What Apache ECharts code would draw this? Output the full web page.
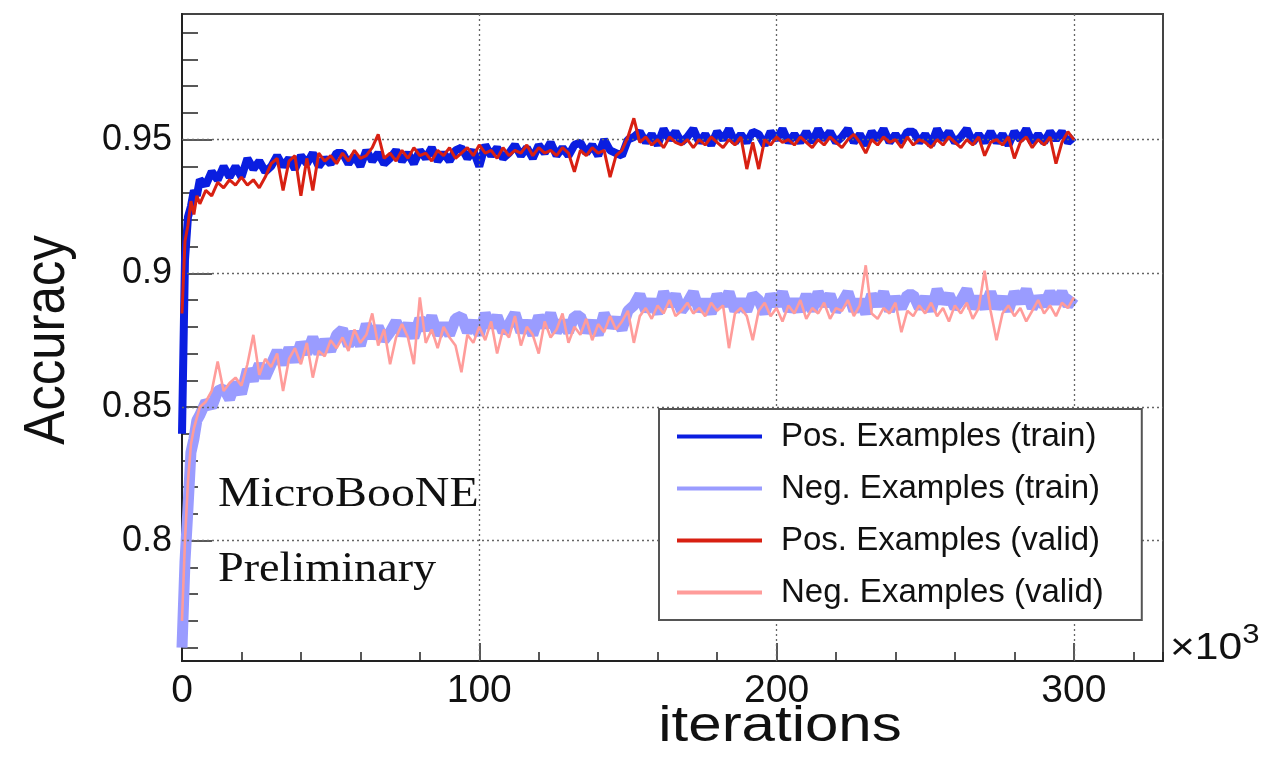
<!DOCTYPE html>
<html>
<head>
<meta charset="utf-8">
<script src="https://cdn.jsdelivr.net/npm/echarts@6/dist/echarts.min.js"></script>
<style>
html,body{margin:0;padding:0;background:#fff;}
#chart{width:1272px;height:778px;}
</style>
</head>
<body>
<div id="chart"></div>
<script>
// iterations (x10^3)
const iterations = [0,1,2,3,4,5,6,8,10,12,
14,16,18,20,22,24,26,28,30,32,
34,36,38,40,42,44,46,48,50,52,
54,56,58,60,62,64,66,68,70,72,
74,76,78,80,82,84,86,88,90,92,
94,96,98,100,102,104,106,108,110,112,
114,116,118,120,122,124,126,128,130,132,
134,136,138,140,142,144,146,148,150,152,
154,156,158,160,162,164,166,168,170,172,
174,176,178,180,182,184,186,188,190,192,
194,196,198,200,202,204,206,208,210,212,
214,216,218,220,222,224,226,228,230,232,
234,236,238,240,242,244,246,248,250,252,
254,256,258,260,262,264,266,268,270,272,
274,276,278,280,282,284,286,288,290,292,
294,296,298,300];

const posTrain = [0.840,0.905,0.921,0.925,0.931,0.929,0.935,0.933,0.938,0.935,
0.940,0.936,0.940,0.936,0.943,0.939,0.942,0.938,0.940,0.944,
0.940,0.943,0.939,0.944,0.941,0.945,0.940,0.943,0.941,0.945,
0.945,0.941,0.944,0.940,0.946,0.942,0.945,0.941,0.943,0.946,
0.942,0.945,0.941,0.946,0.943,0.947,0.942,0.945,0.942,0.946,
0.947,0.943,0.946,0.940,0.948,0.944,0.947,0.943,0.945,0.948,
0.944,0.947,0.943,0.948,0.945,0.949,0.944,0.947,0.944,0.948,
0.949,0.945,0.948,0.944,0.950,0.946,0.945,0.944,0.950,0.951,
0.953,0.949,0.952,0.948,0.954,0.950,0.953,0.949,0.951,0.954,
0.949,0.952,0.948,0.953,0.950,0.954,0.949,0.952,0.949,0.953,
0.952,0.948,0.953,0.950,0.954,0.949,0.952,0.949,0.953,0.949,
0.954,0.950,0.953,0.949,0.951,0.954,0.949,0.952,0.948,0.953,
0.950,0.954,0.949,0.952,0.949,0.953,0.953,0.949,0.952,0.948,
0.954,0.950,0.953,0.949,0.951,0.954,0.949,0.952,0.949,0.953,
0.949,0.952,0.948,0.953,0.950,0.954,0.949,0.952,0.949,0.953,
0.950,0.953,0.949,0.951];

const negTrain = [0.760,0.792,0.812,0.833,0.838,0.845,0.847,0.852,0.850,0.856,
0.857,0.853,0.859,0.855,0.864,0.860,0.866,0.861,0.866,0.871,
0.866,0.872,0.867,0.874,0.870,0.876,0.870,0.875,0.871,0.877,
0.879,0.873,0.878,0.873,0.881,0.876,0.880,0.875,0.878,0.882,
0.877,0.881,0.876,0.883,0.879,0.884,0.877,0.881,0.877,0.883,
0.884,0.878,0.882,0.877,0.885,0.880,0.884,0.878,0.881,0.885,
0.878,0.882,0.877,0.884,0.880,0.885,0.878,0.882,0.878,0.884,
0.884,0.878,0.882,0.877,0.885,0.880,0.883,0.879,0.886,0.888,
0.892,0.886,0.890,0.885,0.893,0.888,0.892,0.886,0.889,0.893,
0.886,0.890,0.885,0.892,0.888,0.893,0.886,0.890,0.886,0.892,
0.890,0.885,0.892,0.888,0.893,0.886,0.890,0.886,0.892,0.886,
0.893,0.888,0.892,0.886,0.889,0.893,0.886,0.890,0.885,0.892,
0.888,0.893,0.886,0.891,0.887,0.892,0.892,0.887,0.891,0.886,
0.894,0.889,0.892,0.887,0.890,0.894,0.887,0.891,0.887,0.893,
0.887,0.891,0.886,0.893,0.889,0.894,0.887,0.891,0.888,0.893,
0.889,0.893,0.888,0.891];

const posValid = [0.885,0.912,0.918,0.927,0.922,0.929,0.926,0.931,0.929,0.934,
0.932,0.935,0.933,0.936,0.933,0.935,0.932,0.936,0.941,0.943,
0.931,0.942,0.944,0.929,0.943,0.931,0.945,0.942,0.944,0.941,
0.945,0.942,0.946,0.943,0.944,0.947,0.952,0.943,0.945,0.942,
0.946,0.943,0.947,0.944,0.945,0.942,0.946,0.944,0.947,0.943,
0.945,0.947,0.944,0.948,0.945,0.946,0.943,0.947,0.944,0.946,
0.945,0.948,0.944,0.947,0.945,0.946,0.944,0.947,0.945,0.938,
0.946,0.944,0.947,0.945,0.946,0.936,0.944,0.946,0.951,0.958,
0.949,0.951,0.948,0.950,0.947,0.951,0.949,0.948,0.950,0.947,
0.950,0.948,0.951,0.949,0.947,0.950,0.948,0.951,0.939,0.949,
0.939,0.950,0.948,0.951,0.949,0.950,0.948,0.951,0.949,0.947,
0.950,0.948,0.951,0.949,0.947,0.950,0.952,0.949,0.945,0.950,
0.948,0.951,0.949,0.950,0.947,0.951,0.948,0.950,0.949,0.947,
0.950,0.948,0.951,0.949,0.947,0.950,0.948,0.951,0.944,0.949,
0.950,0.948,0.951,0.943,0.949,0.951,0.947,0.950,0.948,0.951,
0.941,0.949,0.953,0.950];

const negValid = [0.770,0.800,0.822,0.836,0.842,0.846,0.850,0.852,0.856,0.867,
0.856,0.859,0.861,0.858,0.866,0.877,0.862,0.868,0.865,0.870,
0.856,0.868,0.872,0.866,0.874,0.861,0.871,0.869,0.875,0.872,
0.876,0.871,0.879,0.874,0.877,0.885,0.873,0.879,0.866,0.876,
0.881,0.876,0.866,0.891,0.874,0.879,0.872,0.880,0.876,0.873,
0.863,0.877,0.874,0.880,0.875,0.882,0.870,0.879,0.876,0.884,
0.873,0.880,0.877,0.870,0.882,0.876,0.879,0.885,0.874,0.880,
0.877,0.883,0.875,0.881,0.878,0.884,0.879,0.882,0.886,0.874,
0.884,0.887,0.883,0.888,0.885,0.890,0.884,0.886,0.889,0.885,
0.887,0.884,0.889,0.886,0.888,0.872,0.885,0.887,0.884,0.875,
0.886,0.889,0.884,0.887,0.882,0.888,0.885,0.890,0.883,0.887,
0.885,0.889,0.883,0.887,0.886,0.890,0.884,0.888,0.903,0.885,
0.883,0.887,0.885,0.889,0.878,0.886,0.884,0.888,0.885,0.889,
0.884,0.887,0.882,0.888,0.885,0.889,0.883,0.887,0.901,0.886,
0.875,0.885,0.888,0.884,0.887,0.882,0.886,0.890,0.885,0.888,
0.884,0.889,0.887,0.891];

const seriesNames = ['Pos. Examples (train)','Neg. Examples (train)','Pos. Examples (valid)','Neg. Examples (valid)'];
const seriesColors = ['#0a1ee0','#9a9cff','#d82012','#ff9c9a'];

const yLabelValues = [0.8,0.85,0.9,0.95];
const yMinorValues = [0.76,0.77,0.78,0.79,0.8,0.81,0.82,0.83,0.84,0.85,0.86,0.87,0.88,0.89,0.9,0.91,0.92,0.93,0.94,0.95,0.96,0.97,0.98,0.99];
const xLabelValues = [0,100,200,300];
const xGridValues = [100,200,300];

function pairs(vals){ return iterations.map((x,i)=>[x, vals[i]]); }

const chart = echarts.init(document.getElementById('chart'), null, {renderer:'canvas'});
const FONT = 'Liberation Sans';
const axisLineStyle = {color:'#222', width:2};

const gridMark = {
  silent:true, symbol:['none','none'], label:{show:false},
  lineStyle:{color:'#666', type:[2,3], width:1.3},
  data: xGridValues.map(v=>({xAxis:v})).concat(yLabelValues.map(v=>({yAxis:v})))
};

const seriesWidths = [8, 11, 3, 2.6];
const dataSeries = [posTrain, negTrain, posValid, negValid].map((vals,i)=>({
  name: seriesNames[i], type:'line', data: pairs(vals), symbol:'none', showSymbol:false,
  lineStyle:{color:seriesColors[i], width: seriesWidths[i], join:'bevel'}, itemStyle:{color:seriesColors[i]},
  z: 3+i, clip:true, animation:false
}));

chart.setOption({
  animation:false,
  backgroundColor:'#fff',
  grid:{left:182, top:14, right:109, bottom:117, show:true, borderColor:'#444', borderWidth:2, backgroundColor:'transparent'},
  xAxis:[
    {type:'value', min:0, max:330, interval:20, position:'bottom',
     axisLine:{show:true, onZero:false, lineStyle:axisLineStyle},
     axisTick:{show:true, inside:true, length:9, lineStyle:{color:'#222', width:1.5}},
     axisLabel:{customValues:xLabelValues, fontFamily:FONT, fontSize:39, color:'#111', margin:11},
     splitLine:{show:false}},
    {type:'value', min:0, max:330, position:'bottom', gridIndex:0,
     axisLine:{show:false, onZero:false},
     axisTick:{show:true, inside:true, length:18, customValues:xLabelValues, lineStyle:{color:'#222', width:1.5}},
     axisLabel:{show:false}, splitLine:{show:false}}
  ],
  yAxis:[
    {type:'value', min:0.755, max:0.997, position:'left',
     axisLine:{show:true, onZero:false, lineStyle:axisLineStyle},
     axisTick:{show:true, inside:true, length:16, customValues:yMinorValues, lineStyle:{color:'#222', width:1.5}},
     axisLabel:{customValues:yLabelValues, fontFamily:FONT, fontSize:36, color:'#111', margin:10},
     splitLine:{show:false}},
    {type:'value', min:0.755, max:0.997, position:'left',
     axisLine:{show:false, onZero:false},
     axisTick:{show:true, inside:true, length:30, customValues:yLabelValues, lineStyle:{color:'#222', width:1.5}},
     axisLabel:{show:false}, splitLine:{show:false}}
  ],
  legend:{
    orient:'vertical', left:659, top:409,
    padding:[11,38,11,18], itemGap:19, itemWidth:85, itemHeight:30,
    backgroundColor:'#fff', borderColor:'#555', borderWidth:2, borderRadius:0,
    textStyle:{fontFamily:FONT, fontSize:33, color:'#111', lineHeight:30, padding:[0,0,0,14]},
    data: seriesNames.map((n,i)=>({name:n, icon:'path://M0,13 L85,13 L85,17 L0,17 Z', itemStyle:{color:seriesColors[i]}})),
    selectedMode:false, z:10
  },
  graphic:[
    {type:'text', x:48, y:340, rotation:Math.PI/2, scaleY:1.12, z:20,
     style:{text:'Accuracy', font:'51px "Liberation Sans"', fill:'#111', align:'center', verticalAlign:'middle'}},
    {type:'text', x:780, y:727, scaleX:1.2, z:20,
     style:{text:'iterations', font:'50px "Liberation Sans"', fill:'#111', align:'center', verticalAlign:'middle'}},
    {type:'text', x:1170, y:645, scaleX:1.15, z:20,
     style:{text:'{a|×10}{b|3}', align:'left', verticalAlign:'middle',
       rich:{a:{font:'37px "Liberation Sans"', fill:'#111', verticalAlign:'bottom'},
             b:{font:'27px "Liberation Sans"', fill:'#111', verticalAlign:'top', padding:[0,0,18,0]}}}},
    {type:'text', x:218, y:495, scaleX:1.14, z:20,
     style:{text:'MicroBooNE', font:'42px "Liberation Serif"', fill:'#111', align:'left', verticalAlign:'middle'}},
    {type:'text', x:218, y:570, scaleX:1.1, z:20,
     style:{text:'Preliminary', font:'42px "Liberation Serif"', fill:'#111', align:'left', verticalAlign:'middle'}}
  ],
  series:[
    {type:'line', data:[], xAxisIndex:0, yAxisIndex:0, z:1, markLine:gridMark, silent:true}
  ].concat(dataSeries)
});
</script>
</body>
</html>
